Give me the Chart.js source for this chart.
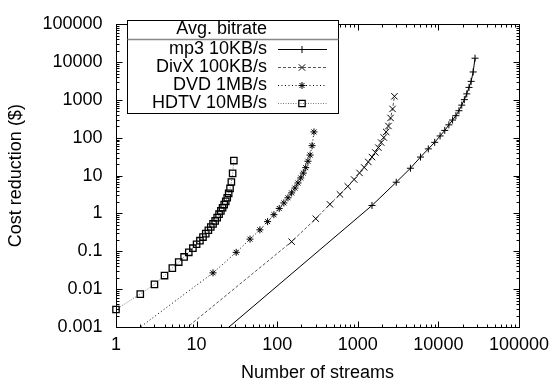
<!DOCTYPE html>
<html>
<head>
<meta charset="utf-8">
<title>Cost reduction vs number of streams</title>
<script src="https://cdn.jsdelivr.net/npm/chart.js@4.4.1/dist/chart.umd.min.js"></script>
<style>
  html, body { margin: 0; padding: 0; background: #fff; }
</style>
</head>
<body>
<canvas id="costChart" width="556" height="383"></canvas>
<script>
// Valeurs (échelle log-log)
const seriesLabels = ['mp3 10KB/s', 'DivX 100KB/s', 'DVD 1MB/s', 'HDTV 10MB/s'];
const legendTitle = 'Avg. bitrate';

const mp3Streams = [1, 1501, 3001, 4501, 6001, 7501, 9001, 10501, 12001, 13501,
    15001, 16501, 18001, 19501, 21001, 22501, 24001, 25501, 27001, 28501];
const mp3Cost = [0.0000029, 1.63, 6.7, 15.7, 31, 51, 76, 112, 157, 220,
    295, 385, 520, 730, 1020, 1450, 2150, 3100, 5500, 12700];

const divxStreams = [1, 151, 301, 451, 601, 751, 901, 1051, 1201, 1351,
    1501, 1651, 1801, 1951, 2101, 2251, 2401, 2551, 2701, 2851];
const divxCost = [0.000028, 0.18, 0.73, 1.75, 3.2, 5.2, 7.9, 11.8, 16.5, 23,
    31, 41, 55, 75, 102, 143, 205, 335, 580, 1250];

const dvdStreams = [1, 16, 31, 46, 61, 76, 91, 106, 121, 136,
    151, 166, 181, 196, 211, 226, 241, 256, 271, 286];
const dvdCost = [0.00033, 0.027, 0.094, 0.21, 0.37, 0.61, 0.93, 1.36, 1.9, 2.6,
    3.5, 4.7, 6.4, 8.7, 11.7, 16.3, 24, 35, 62, 143];

const hdtvStreams = [1, 2, 3, 4, 5, 6, 7, 8, 9, 10, 11, 12, 13, 14, 15,
    16, 17, 18, 19, 20, 21, 22, 23, 24, 25, 26, 27, 28, 29];
const hdtvCost = [0.0029, 0.0074, 0.0134, 0.0229, 0.036, 0.052, 0.071, 0.094, 0.121, 0.154,
    0.191, 0.238, 0.294, 0.36, 0.44, 0.53, 0.635, 0.776, 0.96, 1.17,
    1.42, 1.72, 2.1, 2.6, 3.4, 4.6, 6.8, 11.5, 25];

const xTicks = [1, 10, 100, 1000, 10000, 100000];
const yTicks = [0.001, 0.01, 0.1, 1, 10, 100, 1000, 10000, 100000];
const minorSteps = [2, 3, 4, 5, 6, 7, 8, 9];

const FONT = "'Liberation Sans', Arial, Helvetica, sans-serif";

function toPoints(xs, ys) {
    return xs.map((x, i) => ({ x: x, y: ys[i] }));
}

// cadre, graduations vers l'intérieur et légende façon gnuplot
const gnuplotDecor = {
    id: 'gnuplotDecor',
    afterDraw(chart) {
        const ctx = chart.ctx;
        const area = chart.chartArea;
        const xs = chart.scales.x;
        const ys = chart.scales.y;
        const left = Math.round(area.left) + 0.5;
        const right = Math.round(area.right) + 0.5;
        const top = Math.round(area.top) + 0.5;
        const bottom = Math.round(area.bottom) + 0.5;

        ctx.save();
        ctx.strokeStyle = '#000';
        ctx.lineWidth = 1;
        ctx.setLineDash([]);

        const tickX = (v, len) => {
            const px = Math.round(xs.getPixelForValue(v)) + 0.5;
            ctx.moveTo(px, bottom); ctx.lineTo(px, bottom - len);
            ctx.moveTo(px, top); ctx.lineTo(px, top + len);
        };
        const tickY = (v, len) => {
            const py = Math.round(ys.getPixelForValue(v)) + 0.5;
            ctx.moveTo(left, py); ctx.lineTo(left + len, py);
            ctx.moveTo(right, py); ctx.lineTo(right - len, py);
        };

        ctx.beginPath();
        xTicks.forEach((v, i) => {
            tickX(v, 6);
            if (i < xTicks.length - 1) minorSteps.forEach(m => tickX(v * m, 3));
        });
        yTicks.forEach((v, i) => {
            tickY(v, 6);
            if (i < yTicks.length - 1) minorSteps.forEach(m => tickY(v * m, 3));
        });
        ctx.stroke();

        ctx.strokeRect(left, top, right - left, bottom - top);

        // légende
        const box = { x: 127.5, y: 20.5, w: 211, h: 93 };
        ctx.fillStyle = '#fff';
        ctx.fillRect(box.x, box.y, box.w, box.h);
        ctx.strokeRect(box.x, box.y, box.w, box.h);

        ctx.strokeStyle = '#888';
        ctx.lineWidth = 1.5;
        ctx.beginPath();
        ctx.moveTo(box.x, 39.5);
        ctx.lineTo(box.x + box.w, 39.5);
        ctx.stroke();

        ctx.font = '18px ' + FONT;
        ctx.fillStyle = '#000';
        ctx.textAlign = 'right';
        ctx.textBaseline = 'middle';
        ctx.fillText(legendTitle, 267, 29.5);

        const rows = [49.5, 67.5, 85.5, 103.5];
        chart.data.datasets.forEach((ds, i) => {
            const y = rows[i];
            ctx.fillStyle = '#000';
            ctx.fillText(ds.label, 267, y);

            ctx.strokeStyle = ds.borderColor;
            ctx.lineWidth = ds.borderWidth;
            ctx.setLineDash(ds.borderDash || []);
            ctx.beginPath();
            ctx.moveTo(278, y);
            ctx.lineTo(327, y);
            ctx.stroke();
            ctx.setLineDash([]);

            ctx.strokeStyle = ds.pointBorderColor;
            ctx.fillStyle = 'rgba(0,0,0,0)';
            ctx.lineWidth = ds.pointBorderWidth;
            Chart.helpers.drawPoint(ctx, {
                pointStyle: ds.pointStyle,
                rotation: 0,
                radius: ds.pointRadius,
                borderWidth: ds.pointBorderWidth
            }, 302, y);
        });
        ctx.restore();
    }
};

function buildChart() {
    const ctx = document.getElementById('costChart').getContext('2d');
    const common = {
        borderWidth: 1,
        pointBorderColor: '#000',
        pointBackgroundColor: 'rgba(0,0,0,0)',
        pointBorderWidth: 1,
        pointHoverRadius: 0,
        tension: 0,
        fill: false
    };

    new Chart(ctx, {
        type: 'line',
        data: {
            datasets: [{
                ...common,
                label: seriesLabels[0],
                data: toPoints(mp3Streams, mp3Cost),
                borderColor: '#000',
                borderDash: [],
                pointStyle: 'cross',
                pointRadius: 3.5
            }, {
                ...common,
                label: seriesLabels[1],
                data: toPoints(divxStreams, divxCost),
                borderColor: '#555',
                borderDash: [3, 2],
                pointStyle: 'crossRot',
                pointRadius: 4.5
            }, {
                ...common,
                label: seriesLabels[2],
                data: toPoints(dvdStreams, dvdCost),
                borderColor: '#000',
                borderDash: [1, 2.5],
                pointStyle: 'star',
                pointRadius: 3.5
            }, {
                ...common,
                label: seriesLabels[3],
                data: toPoints(hdtvStreams, hdtvCost),
                borderColor: '#777',
                borderDash: [1, 1.5],
                pointStyle: 'rect',
                pointRadius: 4.5,
                pointBorderWidth: 1.3,
                clip: false
            }]
        },
        options: {
            responsive: false,
            animation: false,
            events: [],
            layout: { padding: { left: 0, right: 31, top: 15, bottom: 0 } },
            plugins: {
                legend: { display: false },
                tooltip: { enabled: false }
            },
            scales: {
                x: {
                    type: 'logarithmic',
                    min: 1,
                    max: 100000,
                    grid: { display: false, drawTicks: false },
                    border: { display: false },
                    afterBuildTicks: scale => { scale.ticks = xTicks.map(v => ({ value: v })); },
                    afterFit: scale => { scale.height = 56; },
                    ticks: {
                        autoSkip: false,
                        maxRotation: 0,
                        padding: 7,
                        color: '#000',
                        font: { family: FONT, size: 18 },
                        callback: v => String(v)
                    },
                    title: {
                        display: true,
                        text: 'Number of streams',
                        color: '#000',
                        font: { family: FONT, size: 18, lineHeight: 1 },
                        padding: { top: 0, bottom: 1 }
                    }
                },
                y: {
                    type: 'logarithmic',
                    min: 0.001,
                    max: 100000,
                    grid: { display: false, drawTicks: false },
                    border: { display: false },
                    afterBuildTicks: scale => { scale.ticks = yTicks.map(v => ({ value: v })); },
                    afterFit: scale => { scale.width = 116; },
                    ticks: {
                        autoSkip: false,
                        padding: 13.5,
                        color: '#000',
                        font: { family: FONT, size: 18 },
                        callback: v => String(v)
                    },
                    title: {
                        display: true,
                        text: 'Cost reduction ($)',
                        color: '#000',
                        font: { family: FONT, size: 18, lineHeight: 1 },
                        padding: { top: 7.5, bottom: 0 }
                    }
                }
            }
        },
        plugins: [gnuplotDecor]
    });
}

window.addEventListener('load', buildChart);
</script>
</body>
</html>
